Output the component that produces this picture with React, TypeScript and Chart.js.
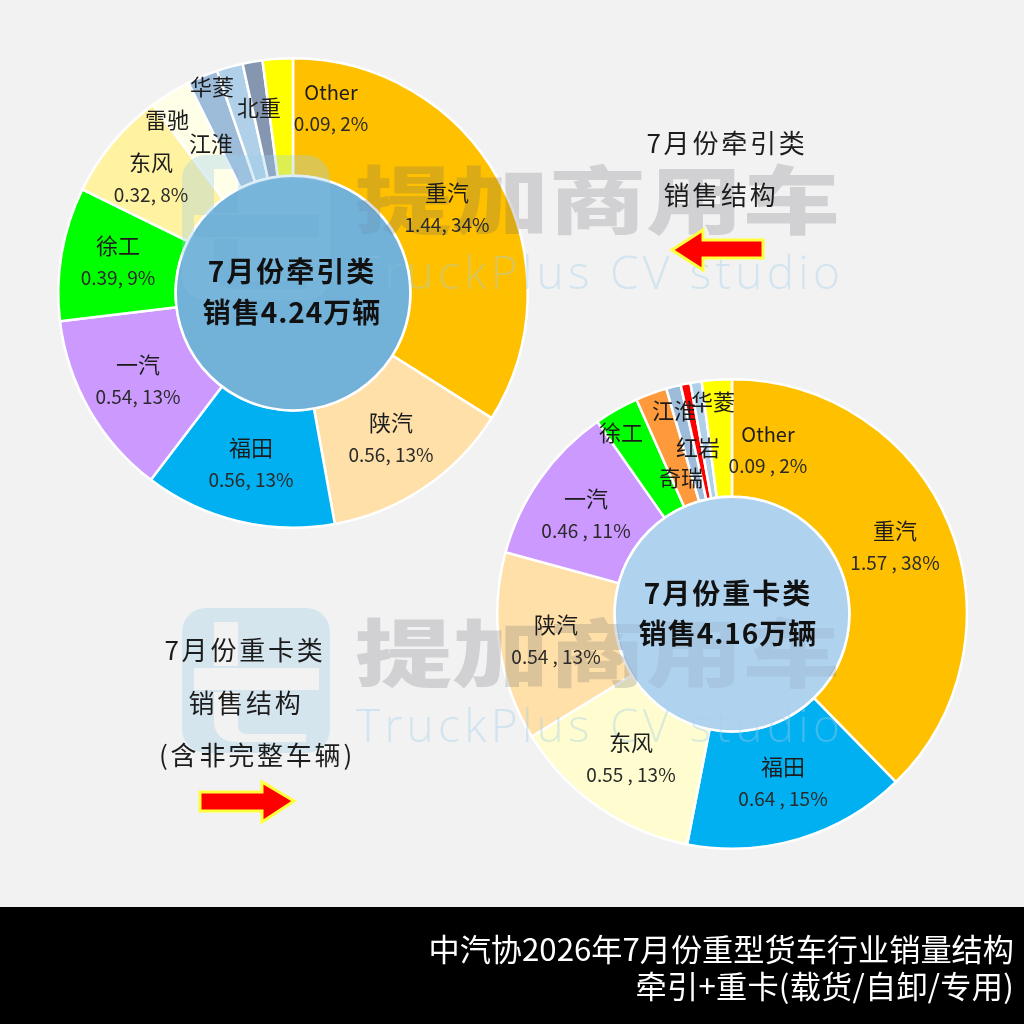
import { useEffect, useRef } from "react";
import { Chart, registerables } from "chart.js";

Chart.register(...registerables);

// tractor chart
const tractorNames = ["重汽", "陕汽", "福田", "一汽", "徐工", "东风", "雷驰", "江淮", "华菱", "北重", "Other"];
const tractorValues = [1.44, 0.56, 0.56, 0.54, 0.39, 0.32, 0.12, 0.09, 0.076, 0.058, 0.088];
const tractorDetails = ["1.44, 34%", "0.56, 13%", "0.56, 13%", "0.54, 13%", "0.39, 9%", "0.32, 8%", "", "", "", "", "0.09, 2%"];
const tractorColors = ["#FFC000", "#FFE0A8", "#00B0F0", "#CC99FF", "#00FF00", "#FFF2A0", "#FFFEE6", "#9DBCDA", "#AFD0E8", "#8496B0", "#FFFF00"];

// heavy truck chart
const heavyNames = ["重汽", "福田", "东风", "陕汽", "一汽", "徐工", "奇瑞", "江淮", "红岩", "华菱", "Other"];
const heavyValues = [1.57, 0.64, 0.55, 0.54, 0.46, 0.127, 0.09, 0.042, 0.028, 0.032, 0.086];
const heavyDetails = ["1.57 , 38%", "0.64 , 15%", "0.55 , 13%", "0.54 , 13%", "0.46 , 11%", "", "", "", "", "", "0.09 , 2%"];
const heavyColors = ["#FFC000", "#00B0F0", "#FFFDCF", "#FFE0A8", "#CC99FF", "#00FF00", "#FF9A3C", "#9DBCDA", "#FF0000", "#AFD0E8", "#FFFF00"];

// where the labels sit on the page
const tractorAnchors = [[447, 208], [391, 438], [251, 463], [138, 380], [118, 261], [151, 178], [167, 120], [211, 144], [212, 87], [259, 108], [331, 107]];
const heavyAnchors = [[895, 546], [783, 782], [631, 758], [556, 640], [586, 514], [621, 433], [681, 478], [674, 411], [698, 448], [713, 402], [768, 449]];

const pageFont = '"Noto Sans CJK SC", "Noto Sans", sans-serif';

interface RingProps {
  names: string[];
  values: number[];
  colors: string[];
  centerX: number;
  centerY: number;
  holeColor: string;
}

function Ring({ names, values, colors, centerX, centerY, holeColor }: RingProps) {
  const canvasRef = useRef<HTMLCanvasElement>(null);

  useEffect(() => {
    if (!canvasRef.current) return;

    // fills the doughnut hole, uses the geometry of the arcs
    const holePlugin = {
      id: "hole",
      afterDatasetsDraw(chart: Chart) {
        const arc: any = chart.getDatasetMeta(0).data[0];
        const ctx = chart.ctx;
        ctx.save();
        ctx.beginPath();
        ctx.arc(arc.x, arc.y, arc.innerRadius, 0, Math.PI * 2);
        ctx.fillStyle = holeColor;
        ctx.fill();
        ctx.lineWidth = 2.5;
        ctx.strokeStyle = "#fff";
        ctx.stroke();
        ctx.restore();
      },
    };

    const chart = new Chart(canvasRef.current, {
      type: "doughnut",
      data: {
        labels: names,
        datasets: [{ data: values, backgroundColor: colors, borderColor: "#fff", borderWidth: 2.5 }],
      },
      options: {
        responsive: false,
        animation: false,
        cutout: "50%",
        layout: { padding: 9 },
        plugins: { legend: { display: false }, tooltip: { enabled: false } },
      },
      plugins: [holePlugin],
    });

    return () => chart.destroy();
  }, []);

  return (
    <canvas
      ref={canvasRef}
      width={490}
      height={490}
      style={{ position: "absolute", left: centerX - 245, top: centerY - 245, width: 490, height: 490 }}
    />
  );
}

function Watermark({ top }: { top: number }) {
  const x = 182;
  const y = top - 10;
  const logo =
    `M${x + 24} ${y}h100a24 24 0 0 1 24 24v97a24 24 0 0 1 -24 24h-100a24 24 0 0 1 -24 -24v-97a24 24 0 0 1 24 -24z` +
    `M${x + 32} ${y + 14}h24v44h-24z` +
    `M${x + 12} ${y + 60}h125v22h-125z` +
    `M${x + 32} ${y + 84}h24v34a8 8 0 0 0 8 8h60v8h-72a20 20 0 0 1 -20 -20z`;
  return (
    <g>
      <path d={logo} fill="rgba(159,205,233,0.35)" fillRule="evenodd" />
      <text
        x={355}
        y={top + 63}
        textLength={485}
        lengthAdjust="spacingAndGlyphs"
        fontFamily={pageFont}
        fontWeight={900}
        fontSize={74}
        fill="rgba(90,92,105,0.22)"
      >
        提加商用车
      </text>
      <text
        x={356}
        y={top + 124}
        textLength={484}
        lengthAdjust="spacing"
        fontFamily='"Open Sans", sans-serif'
        fontWeight={300}
        fontSize={46}
        fill="rgba(159,205,233,0.38)"
      >
        TruckPlus CV studio
      </text>
    </g>
  );
}

function Text({ x, y, size, weight, spacing, color, children }: any) {
  return (
    <div
      style={{
        position: "absolute",
        left: x,
        top: y,
        transform: "translate(-50%, -50%)",
        whiteSpace: "pre",
        fontSize: size,
        fontWeight: weight || 400,
        letterSpacing: spacing || 0,
        color: color || "#1c1c1c",
        lineHeight: 1,
      }}
    >
      {children}
    </div>
  );
}

function SliceLabels({ names, details, anchors }: { names: string[]; details: string[]; anchors: number[][] }) {
  return (
    <>
      {names.map((name, i) => {
        const isOther = name === "Other";
        const nameY = anchors[i][1] - (details[i] ? 15 : 0) - (isOther ? 0 : 2);
        return (
          <div key={name}>
            <Text x={anchors[i][0]} y={nameY} size={isOther ? 20 : 22}>
              {name}
            </Text>
            {details[i] && (
              <Text x={anchors[i][0]} y={anchors[i][1] + 15} size={19} color="#2a2a2a">
                {details[i]}
              </Text>
            )}
          </div>
        );
      })}
    </>
  );
}

function Arrow({ d }: { d: string }) {
  return <path d={d} fill="#FF0000" stroke="#FFFF3C" strokeWidth={3} strokeLinejoin="miter" />;
}

// the watermark only shows faintly through the centre discs
function Veil({ x, y, color }: { x: number; y: number; color: string }) {
  return (
    <div
      style={{
        position: "absolute",
        left: x - 115,
        top: y - 115,
        width: 230,
        height: 230,
        borderRadius: "50%",
        background: color,
        opacity: 0.55,
      }}
    />
  );
}

export default function App() {
  document.body.style.margin = "0";
  return (
    <div style={{ position: "absolute", left: 0, top: 0, width: 1024, height: 1024, background: "#F2F2F2", overflow: "hidden", fontFamily: pageFont }}>
      <Ring names={tractorNames} values={tractorValues} colors={tractorColors} centerX={293} centerY={293} holeColor="#72B1D8" />
      <Ring names={heavyNames} values={heavyValues} colors={heavyColors} centerX={732} centerY={614} holeColor="#AFD2EE" />

      <svg width={1024} height={1024} style={{ position: "absolute", left: 0, top: 0 }}>
        <Watermark top={165} />
        <Watermark top={618} />
        <Arrow d="M672 250L703 230V240H763V258H703V270Z" />
        <Arrow d="M294 801L262 782V792H200V811H262V822Z" />
      </svg>

      <Veil x={293} y={293} color="#72B1D8" />
      <Veil x={732} y={614} color="#AFD2EE" />

      <SliceLabels names={tractorNames} details={tractorDetails} anchors={tractorAnchors} />
      <SliceLabels names={heavyNames} details={heavyDetails} anchors={heavyAnchors} />

      <Text x={292} y={270} size={28} weight={700} spacing={2} color="#111">7月份牵引类</Text>
      <Text x={292} y={311} size={28} weight={700} spacing={1} color="#111">销售4.24万辆</Text>
      <Text x={728} y={592} size={28} weight={700} spacing={2} color="#111">7月份重卡类</Text>
      <Text x={728} y={632} size={28} weight={700} spacing={1} color="#111">销售4.16万辆</Text>

      <Text x={727} y={142} size={26} spacing={2.8}>7月份牵引类</Text>
      <Text x={721} y={194} size={26} spacing={2.8}>销售结构</Text>
      <Text x={245} y={649} size={26} spacing={2.8}>7月份重卡类</Text>
      <Text x={246} y={702} size={26} spacing={2.8}>销售结构</Text>
      <Text x={257} y={754} size={26} spacing={2.8}>(含非完整车辆)</Text>

      <div style={{ position: "absolute", left: 0, top: 907, width: 1024, height: 117, background: "#000" }} />
      <div style={{ position: "absolute", right: 10, top: 929, textAlign: "right", color: "#fff", fontSize: 31.2, lineHeight: "37px", whiteSpace: "pre" }}>
        {"中汽协2026年7月份重型货车行业销量结构\n"}
        <span style={{ letterSpacing: 0.25 }}>牵引+重卡(载货/自卸/专用)</span>
      </div>
    </div>
  );
}
